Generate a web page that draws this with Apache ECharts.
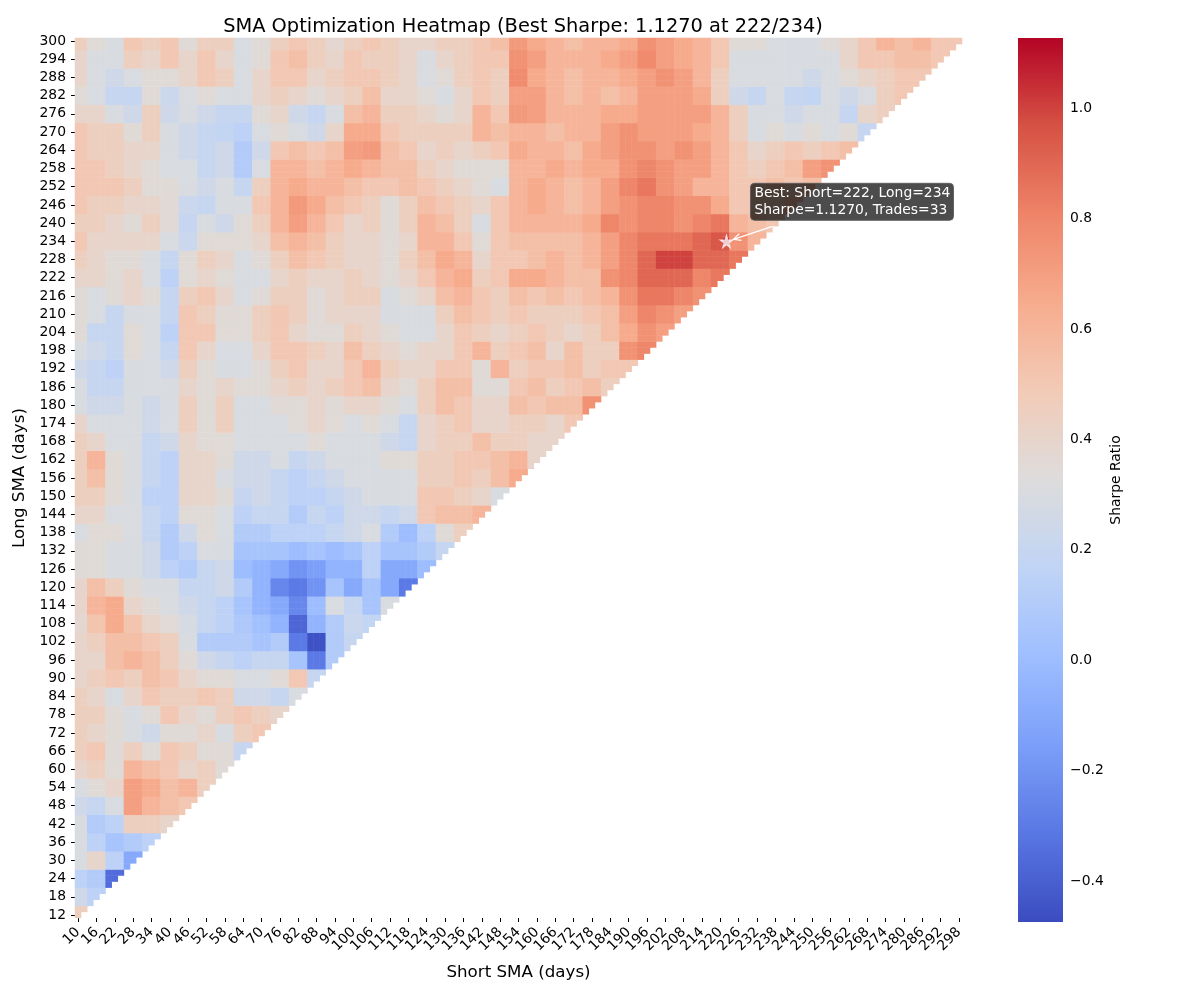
<!DOCTYPE html>
<html>
<head>
<meta charset="utf-8">
<script src="https://cdn.jsdelivr.net/npm/echarts@6/dist/echarts.min.js"></script>
<style>html,body{margin:0;padding:0;background:#fff}#c{width:1200px;height:1000px}</style>
</head>
<body>
<div id="c"></div>
<script>
// ---- data ----
// tick labels (every third 2-day cell is labelled)
const shortTicks = [10,16,22,28,34,40,46,52,58,64,70,76,82,88,94,100,106,112,118,124,130,136,142,148,154,160,166,172,178,184,190,196,202,208,214,220,226,232,238,244,250,256,262,268,274,280,286,292,298];
const longTicks = [300,294,288,282,276,270,264,258,252,246,240,234,228,222,216,210,204,198,192,186,180,174,168,162,156,150,144,138,132,126,120,114,108,102,96,90,84,78,72,66,60,54,48,42,36,30,24,18,12];
// Sharpe ratio read at each (short tick, long tick) position; row = long tick (top to bottom), column = short tick
const sharpeRows = [
[0.45,0.35,0.3,0.5,0.45,0.5,0.35,0.45,0.45,0.3,0.35,0.45,0.5,0.45,0.38,0.45,0.5, 0.45,0.4,0.4,0.45,0.45,0.5,0.55,0.72,0.65,0.6,0.55,0.6,0.6,0.65,0.75, 0.7,0.65,0.6,0.5,0.35,0.35,0.3,0.3,0.3,0.35,0.4,0.5,0.6,0.55,0.6,0.5,0.5],
[0.4,0.3,0.3,0.45,0.4,0.5,0.4,0.5,0.4,0.3,0.35,0.5,0.55,0.45,0.4,0.5,0.45, 0.45,0.4,0.3,0.4,0.45,0.5,0.5,0.75,0.7,0.6,0.6,0.6,0.65,0.7,0.78, 0.7,0.65,0.6,0.5,0.3,0.3,0.3,0.3,0.3,0.3,0.4,0.5,0.5,0.55,0.55,0.5],
[0.4,0.3,0.25,0.3,0.35,0.35,0.4,0.5,0.45,0.3,0.4,0.5,0.5,0.4,0.45,0.5,0.5, 0.45,0.4,0.3,0.35,0.45,0.5,0.45,0.78,0.65,0.6,0.55,0.6,0.6,0.65,0.7, 0.75,0.7,0.6,0.45,0.3,0.3,0.3,0.3,0.25,0.3,0.35,0.4,0.45,0.5,0.5],
[0.35,0.3,0.2,0.2,0.35,0.22,0.3,0.35,0.3,0.3,0.4,0.45,0.4,0.35,0.4,0.45,0.55, 0.4,0.4,0.35,0.3,0.4,0.5,0.45,0.7,0.7,0.6,0.55,0.6,0.55,0.6,0.7, 0.7,0.7,0.65,0.45,0.25,0.2,0.3,0.2,0.18,0.3,0.25,0.3,0.45,0.5],
[0.4,0.4,0.3,0.25,0.45,0.25,0.3,0.25,0.2,0.2,0.35,0.4,0.25,0.2,0.3,0.55,0.6, 0.45,0.45,0.4,0.35,0.4,0.6,0.5,0.72,0.7,0.6, 0.6,0.6,0.65,0.65,0.7,0.7,0.7,0.7,0.6,0.45,0.3, 0.3,0.25,0.3,0.3,0.2,0.4,0.45],
[0.5,0.45,0.45,0.35,0.45,0.3,0.25,0.2,0.18,0.15,0.3,0.35,0.3,0.25,0.4,0.65,0.65, 0.5,0.45,0.45,0.45,0.45,0.6,0.55,0.6,0.6,0.55, 0.6,0.6,0.7,0.75,0.7,0.7,0.7,0.65,0.6,0.45, 0.3,0.35,0.3,0.35,0.3,0.35,0.2],
[0.5,0.45,0.45,0.4,0.4,0.3,0.25,0.2,0.25,0.1,0.25,0.5,0.55,0.5,0.55,0.7,0.72, 0.55,0.5,0.4,0.45,0.4,0.45,0.5,0.65,0.6,0.6, 0.55,0.65,0.7,0.75,0.75,0.7,0.75,0.7,0.6,0.5, 0.4,0.45,0.5,0.45,0.5,0.55],
[0.5,0.5,0.45,0.4,0.35,0.3,0.3,0.2,0.25,0.1,0.3,0.6,0.6,0.55,0.6,0.65,0.6, 0.55,0.55,0.45,0.4,0.35,0.35,0.35,0.6,0.6,0.65, 0.6,0.65,0.65,0.75,0.8,0.75,0.7,0.7,0.6,0.5, 0.45,0.5,0.55,0.7,0.75],
[0.5,0.5,0.5,0.45,0.35,0.35,0.3,0.25,0.3,0.2,0.45,0.6,0.65,0.6,0.6,0.55,0.5, 0.5,0.55,0.5,0.45,0.4,0.35,0.3,0.6,0.65,0.6, 0.55,0.6,0.7,0.8,0.85,0.75,0.7,0.6,0.6,0.5, 0.5,0.55,0.5,0.55],
[0.5,0.45,0.45,0.4,0.4,0.35,0.22,0.2,0.3,0.3,0.5,0.6,0.72,0.65,0.55,0.5,0.45, 0.35,0.45,0.55,0.5,0.45,0.4,0.5,0.6,0.65,0.6, 0.55,0.6,0.7,0.75,0.8,0.8,0.75,0.75,0.65,0.5, 0.5,0.5,0.55],
[0.45,0.45,0.4,0.35,0.45,0.35,0.2,0.3,0.25,0.35,0.45,0.6,0.7,0.6,0.5,0.4,0.45, 0.35,0.45,0.6,0.55,0.45,0.3,0.5,0.6,0.6,0.6, 0.6,0.65,0.8,0.75,0.8,0.8,0.75,0.8,0.85,0.6, 0.55,0.5],
[0.5,0.4,0.4,0.4,0.4,0.3,0.22,0.35,0.35,0.35,0.4,0.55,0.6,0.55,0.45,0.4,0.4, 0.35,0.4,0.6,0.6,0.5,0.35,0.5,0.55,0.55,0.55, 0.55,0.6,0.7,0.8,0.85,0.85,0.85,0.9,0.95,0.75,0.6],
[0.45,0.4,0.35,0.35,0.3,0.2,0.35,0.45,0.4,0.3,0.35,0.45,0.55,0.5,0.45,0.4,0.4, 0.35,0.45,0.55,0.65,0.6,0.4,0.5,0.5,0.55,0.6, 0.55,0.6,0.7,0.8,0.9,1.0,1.0,0.9,0.9,0.85],
[0.4,0.4,0.35,0.4,0.3,0.15,0.35,0.4,0.35,0.3,0.3,0.4,0.45,0.4,0.4,0.45,0.4, 0.35,0.4,0.5,0.6,0.65,0.45,0.5,0.65,0.65,0.6, 0.55,0.55,0.75,0.8,0.9,0.9,0.9,0.8,0.85],
[0.35,0.3,0.35,0.4,0.35,0.2,0.45,0.5,0.4,0.3,0.35,0.45,0.45,0.35,0.4,0.45,0.45, 0.3,0.35,0.4,0.55,0.6,0.5,0.45,0.55,0.5,0.55, 0.5,0.55,0.6,0.75,0.85,0.85,0.8,0.75],
[0.35,0.3,0.2,0.3,0.3,0.2,0.5,0.45,0.35,0.35,0.45,0.5,0.45,0.35,0.4,0.4,0.4, 0.3,0.3,0.3,0.45,0.55,0.5,0.45,0.5,0.45,0.45, 0.45,0.5,0.55,0.7,0.8,0.75,0.7],
[0.35,0.2,0.2,0.35,0.3,0.15,0.5,0.5,0.35,0.35,0.45,0.5,0.4,0.35,0.35,0.45,0.4, 0.35,0.3,0.3,0.4,0.5,0.45,0.4,0.45,0.5,0.45, 0.4,0.45,0.55,0.65,0.75,0.7],
[0.3,0.25,0.2,0.35,0.3,0.2,0.5,0.4,0.3,0.3,0.4,0.5,0.5,0.45,0.4,0.55,0.45, 0.4,0.35,0.4,0.4,0.5,0.6,0.45,0.5,0.55,0.4,0.55,0.45,0.45,0.75,0.8],
[0.25,0.2,0.15,0.3,0.3,0.25,0.45,0.35,0.3,0.3,0.35,0.45,0.5,0.4,0.4,0.5,0.6, 0.45,0.4,0.4,0.5,0.5,0.35,0.6,0.45,0.5,0.5,0.55,0.45,0.5,0.5],
[0.3,0.2,0.2,0.3,0.3,0.3,0.4,0.35,0.4,0.35,0.35,0.4,0.45,0.4,0.45,0.5,0.55, 0.4,0.35,0.45,0.55,0.55,0.35,0.35,0.5,0.55,0.45,0.5,0.55,0.45],
[0.3,0.25,0.25,0.3,0.25,0.3,0.45,0.35,0.45,0.3,0.3,0.35,0.35,0.4,0.35,0.4,0.4, 0.35,0.3,0.45,0.55,0.5,0.4,0.4,0.55,0.5,0.55,0.55,0.75],
[0.4,0.3,0.3,0.3,0.25,0.3,0.45,0.35,0.45,0.3,0.3,0.3,0.35,0.4,0.35,0.3,0.35, 0.3,0.2,0.4,0.45,0.5,0.4,0.4,0.45,0.45,0.4,0.5],
[0.45,0.4,0.3,0.3,0.2,0.25,0.4,0.35,0.35,0.3,0.3,0.3,0.3,0.35,0.3,0.3,0.3, 0.25,0.2,0.4,0.45,0.45,0.55,0.45,0.45,0.4,0.4],
[0.45,0.6,0.35,0.3,0.2,0.15,0.4,0.4,0.35,0.25,0.25,0.3,0.2,0.25,0.3,0.3,0.3, 0.35,0.35,0.45,0.45,0.5,0.5,0.55,0.6,0.4],
[0.45,0.55,0.35,0.3,0.2,0.15,0.4,0.4,0.3,0.25,0.25,0.2,0.15,0.2,0.25,0.3,0.3, 0.3,0.3,0.45,0.45,0.5,0.45,0.55,0.65],
[0.45,0.45,0.35,0.3,0.15,0.15,0.4,0.4,0.35,0.2,0.25,0.2,0.15,0.15,0.2,0.25,0.3, 0.3,0.3,0.5,0.5,0.45,0.4,0.3],
[0.4,0.4,0.3,0.3,0.2,0.15,0.35,0.35,0.3,0.15,0.2,0.2,0.1,0.2,0.15,0.25,0.25, 0.2,0.25,0.5,0.55,0.55,0.6],
[0.3,0.35,0.35,0.3,0.2,0.1,0.25,0.35,0.3,0.1,0.1,0.15,0.15,0.15,0.2,0.25,0.3, 0.1,0.0,0.15,0.35,0.45],
[0.35,0.35,0.3,0.3,0.25,0.1,0.15,0.3,0.3,0.05,0.05,0.05,0.0,0.05,0.0,0.05,0.15, 0.05,0.05,0.1,0.2],
[0.35,0.35,0.3,0.3,0.25,0.15,0.1,0.2,0.25,0.0,-0.05,-0.1,-0.2,-0.15,-0.05,-0.05,0.15, -0.1,-0.1,0.0],
[0.4,0.55,0.45,0.35,0.3,0.3,0.2,0.2,0.25,0.1,-0.05,-0.25,-0.3,-0.2,0.05,-0.1,0.05, -0.1,-0.3],
[0.4,0.6,0.65,0.4,0.35,0.3,0.25,0.2,0.15,0.05,-0.05,-0.1,-0.25,0.0,0.3,0.2,0.05, 0.3],
[0.38,0.52,0.65,0.52,0.4,0.35,0.28,0.2,0.15,0.08,0.02,-0.05,-0.38,-0.05,0.1,0.22,0.18],
[0.4,0.45,0.55,0.55,0.5,0.45,0.3,0.1,0.1,0.1,0.05,0.1,-0.3,-0.45,0.1,0.2],
[0.4,0.4,0.55,0.6,0.55,0.45,0.35,0.25,0.2,0.15,0.2,0.2,0.05,-0.3,0.1],
[0.4,0.45,0.5,0.45,0.55,0.5,0.4,0.35,0.35,0.3,0.3,0.35,0.5,0.2],
[0.45,0.4,0.3,0.4,0.5,0.45,0.45,0.5,0.45,0.25,0.25,0.2,0.3],
[0.45,0.45,0.35,0.3,0.35,0.5,0.4,0.35,0.45,0.5,0.45,0.4],
[0.45,0.4,0.35,0.3,0.25,0.35,0.35,0.4,0.3,0.45,0.5],
[0.45,0.5,0.35,0.45,0.35,0.5,0.45,0.35,0.35,0.2],
[0.4,0.45,0.35,0.6,0.55,0.5,0.4,0.45,0.35],
[0.3,0.35,0.4,0.7,0.65,0.55,0.6,0.45],
[0.25,0.2,0.3,0.7,0.6,0.55,0.5],
[0.3,0.1,0.15,0.45,0.45,0.4],
[0.3,0.15,0.05,0.1,0.15],
[0.3,0.4,0.15,-0.1],
[0.15,0.1,-0.35],
[0.25,0.15],
[0.45]
];
const bestShort = 222;
const bestLong = 234;
const bestSharpe = 1.127;
const bestTrades = 33;
const colorMin = -0.474;
const colorMax = 1.127;
const colorbarTicks = [-0.4,-0.2,0.0,0.2,0.4,0.6,0.8,1.0];
const coolwarm = ['#3b4cc0','#5977e3','#7b9ff9','#9ebeff','#c0d4f5','#dddcdc','#f2cbb7','#f7ac8e','#ee8468','#d65244','#b40426'];

// ---- axis categories: every 2-day step ----
const shortDays = []; for (let s = shortTicks[0]; s <= shortTicks[shortTicks.length-1]; s += 2) shortDays.push(s);
const longDays = []; for (let l = longTicks[longTicks.length-1]; l <= longTicks[0]; l += 2) longDays.push(l);

// each 2-day cell takes the value read at its nearest labelled tick position
const cells = [];
longDays.forEach((l, yi) => {
  shortDays.forEach((s, xi) => {
    if (s >= l) return;
    const r = Math.round((longTicks[0] - l) / 6);
    const c = Math.round((s - shortTicks[0]) / 6);
    let v = sharpeRows[r] ? sharpeRows[r][c] : undefined;
    if (s === bestShort && l === bestLong) v = bestSharpe;
    if (v !== undefined) cells.push([xi, yi, v]);
  });
});

const FONT = 'DejaVu Sans';
const chart = echarts.init(document.getElementById('c'), null, {renderer: 'canvas'});
const starPath = 'path://M50,0 L61,35 L98,35 L68,57 L79,91 L50,70 L21,91 L32,57 L2,35 L39,35 Z';
const fmt = v => (Math.abs(v) < 1e-9 ? '0.0' : v.toFixed(1).replace('-', '\u2212'));
const everyThird = (v, i) => (i % 3 === 0 ? String(v) : '');

chart.setOption({
  animation: false,
  backgroundColor: '#fff',
  textStyle: {fontFamily: FONT},
  title: {
    text: `SMA Optimization Heatmap (Best Sharpe: ${bestSharpe.toFixed(4)} at ${bestShort}/${bestLong})`,
    left: 518, top: 12, textAlign: 'center',
    textStyle: {fontFamily: FONT, fontSize: 19.4, fontWeight: 'normal', color: '#000'}
  },
  grid: [
    {left: 75, top: 38, width: 887, height: 880},
    {left: 1018, top: 38, width: 45, height: 884}
  ],
  visualMap: {
    show: false, type: 'continuous', min: colorMin, max: colorMax,
    dimension: 2, seriesIndex: 0, inRange: {color: coolwarm}
  },
  xAxis: [
    {
      type: 'category', gridIndex: 0, data: shortDays.map(String),
      axisLine: {show: false}, splitLine: {show: false},
      axisTick: {show: true, interval: 2, alignWithLabel: true, length: 4, lineStyle: {color: '#000'}},
      axisLabel: {interval: 0, formatter: everyThird, rotate: 45, fontSize: 13.9, color: '#000', margin: 12, fontFamily: FONT, hideOverlap: false},
      name: 'Short SMA (days)', nameLocation: 'middle', nameGap: 46,
      nameTextStyle: {fontSize: 16.7, color: '#000', fontFamily: FONT}
    },
    {type: 'value', gridIndex: 1, show: false, min: 0, max: 1}
  ],
  yAxis: [
    {
      type: 'category', gridIndex: 0, data: longDays.map(String),
      axisLine: {show: false}, splitLine: {show: false},
      axisTick: {show: true, interval: 2, alignWithLabel: true, length: 4, lineStyle: {color: '#000'}},
      axisLabel: {interval: 0, formatter: everyThird, fontSize: 13.9, color: '#000', margin: 9, fontFamily: FONT, hideOverlap: false},
      name: 'Long SMA (days)', nameLocation: 'middle', nameGap: 44, nameRotate: 90,
      nameTextStyle: {fontSize: 16.7, color: '#000', fontFamily: FONT}
    },
    {
      type: 'value', gridIndex: 1, position: 'right', min: colorMin, max: colorMax,
      axisLine: {show: false}, splitLine: {show: false},
      axisTick: {show: true, length: 4, customValues: colorbarTicks, lineStyle: {color: '#000'}},
      axisLabel: {customValues: colorbarTicks, formatter: fmt, fontSize: 13.9, color: '#000', margin: 7, fontFamily: FONT},
      name: 'Sharpe Ratio', nameLocation: 'middle', nameGap: 46, nameRotate: 90,
      nameTextStyle: {fontSize: 13.9, color: '#000', fontFamily: FONT}
    }
  ],
  series: [
    {
      type: 'heatmap', xAxisIndex: 0, yAxisIndex: 0, data: cells,
      progressive: 0, emphasis: {disabled: true}, itemStyle: {borderWidth: 0}
    },
    {
      type: 'scatter', xAxisIndex: 0, yAxisIndex: 0, z: 10,
      data: [[(bestShort - shortDays[0]) / 2, (bestLong - longDays[0]) / 2]],
      symbol: starPath, symbolSize: 16,
      itemStyle: {color: '#fff'}, emphasis: {disabled: true}, silent: true
    },
    {type: 'scatter', xAxisIndex: 1, yAxisIndex: 1, data: [], silent: true}
  ]
});

// colorbar + annotation graphics
const p = chart.convertToPixel({xAxisIndex: 0, yAxisIndex: 0}, [(bestShort - shortDays[0]) / 2, (bestLong - longDays[0]) / 2]);
const stops = coolwarm.slice().reverse().map((c, i, a) => ({offset: i / (a.length - 1), color: c}));
const S = [p[0] + 46, p[1] - 15];
const T = [p[0] + 7, p[1] - 2];
const dx = S[0] - T[0], dy = S[1] - T[1], dl = Math.hypot(dx, dy);
const ux = dx / dl, uy = dy / dl, ang = 0.45, hl = 8;
const h1 = [T[0] + hl * (ux * Math.cos(ang) - uy * Math.sin(ang)), T[1] + hl * (ux * Math.sin(ang) + uy * Math.cos(ang))];
const h2 = [T[0] + hl * (ux * Math.cos(-ang) - uy * Math.sin(-ang)), T[1] + hl * (ux * Math.sin(-ang) + uy * Math.cos(-ang))];

chart.setOption({
  graphic: [
    {
      type: 'rect', shape: {x: 1018, y: 38, width: 45, height: 884}, z: 1,
      style: {fill: new echarts.graphic.LinearGradient(0, 0, 0, 1, stops)}
    },
    {
      type: 'polyline', z: 20, shape: {points: [S, T]},
      style: {stroke: '#fff', lineWidth: 1.2, fill: null}
    },
    {
      type: 'polyline', z: 20, shape: {points: [h1, T, h2]},
      style: {stroke: '#fff', lineWidth: 1.2, fill: null}
    },
    {
      type: 'rect', z: 21, shape: {x: p[0] + 24, y: p[1] - 58, width: 203, height: 37, r: 4},
      style: {fill: 'rgba(0,0,0,0.7)', stroke: 'rgba(90,90,90,0.9)', lineWidth: 1}
    },
    {
      type: 'text', z: 22, x: p[0] + 28, y: p[1] - 56,
      style: {
        text: `Best: Short=${bestShort}, Long=${bestLong}\nSharpe=${bestSharpe.toFixed(4)}, Trades=${bestTrades}`,
        fill: '#fff', font: `13.9px "${FONT}"`, lineHeight: 16.5, textVerticalAlign: 'top'
      }
    }
  ]
});
</script>
</body>
</html>
